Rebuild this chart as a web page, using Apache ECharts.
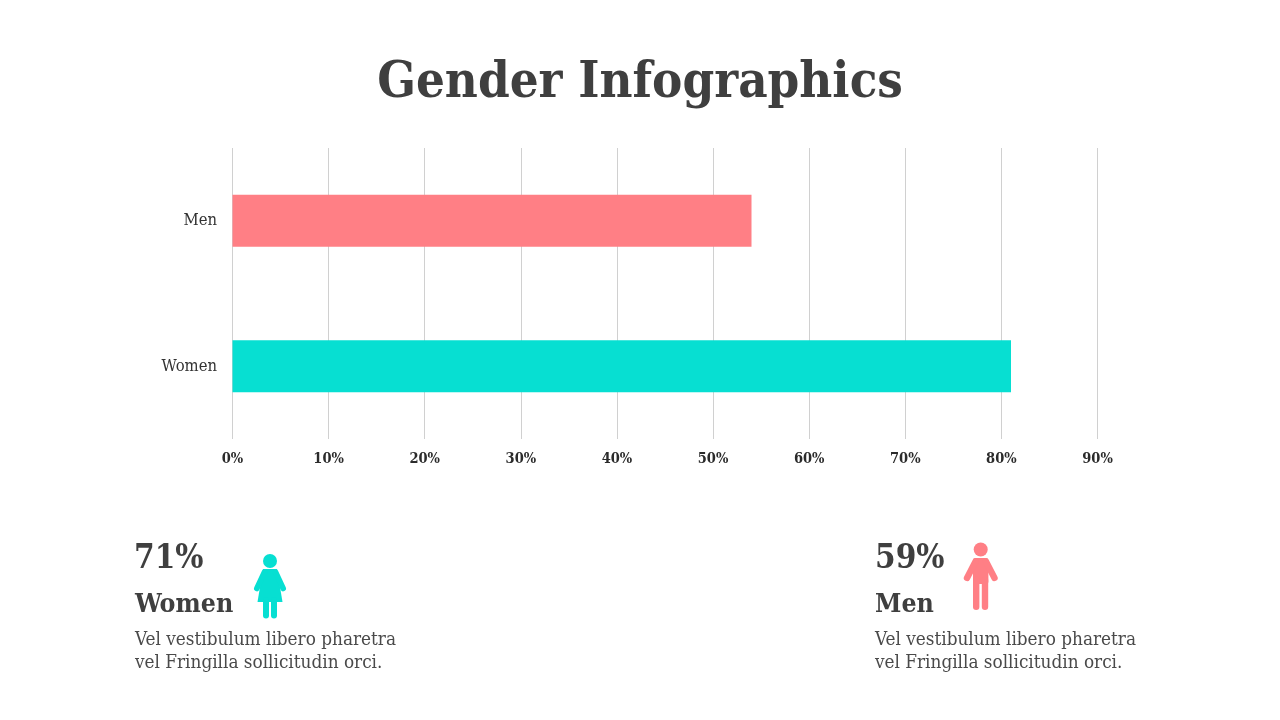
<!DOCTYPE html>
<html><head><meta charset="utf-8">
<style>html,body{margin:0;padding:0;background:#fff}#c{width:1280px;height:720px}</style>
<script src="https://cdn.jsdelivr.net/npm/echarts@6/dist/echarts.min.js"></script>
</head><body><div id="c"></div>
<script>
const categories = ['Women', 'Men'];
const shareValues = [81, 54];
const barColors = ['#07DFD2', '#FF7F85'];
const tickValues = [0, 90, 10];
const SERIF = '"DejaVu Serif Condensed","DejaVu Serif","Liberation Serif",serif';
const DARK = '#3F3F3F';
function txt(x, y, s, size, weight, color, align) {
  return {type:'text', x, y, style:{text:s, fontFamily:SERIF, fontSize:size, fontWeight:weight, fill:color, textAlign:align||'left', textVerticalAlign:'middle'}};
}
function limb(x1,y1,x2,y2,w,c){
  return {type:'line', shape:{x1,y1,x2,y2}, style:{stroke:c,lineWidth:w,lineCap:'round'}};
}
function womanIcon(c){
  return [
    {type:'circle', shape:{cx:270,cy:561,r:7}, style:{fill:c}},
    {type:'polygon', shape:{points:[[263,569],[277,569],[282.5,602],[257.5,602]]}, style:{fill:c}},
    limb(264.5,572,256.8,588.5,5.6,c), limb(275.5,572,283.2,588.5,5.6,c),
    limb(266,600,266,615.5,6,c), limb(274,600,274,615.5,6,c)
  ];
}
function manIcon(c){
  return [
    {type:'circle', shape:{cx:980.7,cy:549.5,r:7}, style:{fill:c}},
    {type:'rect', shape:{x:973,y:558,width:15.4,height:26,r:2}, style:{fill:c}},
    limb(975.5,561.5,967,578,6.4,c), limb(986,561.5,994.5,578,6.4,c),
    limb(976.2,580,976.2,606.8,6.4,c), limb(985,580,985,606.8,6.4,c)
  ];
}
const chart = echarts.init(document.getElementById('c'), null, {renderer:'canvas'});
chart.setOption({
  animation:false,
  backgroundColor:'#fff',
  graphic:[
    txt(640,84,'Gender Infographics',50.5,'bold',DARK,'center'),
    txt(134,559,'71%',33,'bold',DARK),
    txt(135,605,'Women',26.5,'bold',DARK),
    txt(135,640,'Vel vestibulum libero pharetra',18.8,'normal','#4A4A4A'),
    txt(135,663,'vel Fringilla sollicitudin orci.',18.8,'normal','#4A4A4A'),
    txt(875,559,'59%',33,'bold',DARK),
    txt(875,605,'Men',26.5,'bold',DARK),
    txt(875,640,'Vel vestibulum libero pharetra',18.8,'normal','#4A4A4A'),
    txt(875,663,'vel Fringilla sollicitudin orci.',18.8,'normal','#4A4A4A'),
    ...womanIcon(barColors[0]),
    ...manIcon(barColors[1])
  ],
  grid:{left:232.5, top:148, width:865, height:291, containLabel:false},
  xAxis:{type:'value', min:tickValues[0], max:tickValues[1], interval:tickValues[2],
    axisLine:{show:false}, axisTick:{show:false},
    splitLine:{show:true, lineStyle:{color:'#D0D0D0', width:1}},
    axisLabel:{formatter:'{value}%', margin:13, fontFamily:SERIF, fontSize:14.5, fontWeight:'bold', color:'#2B2B2B'}},
  yAxis:{type:'category', data:categories,
    axisLine:{show:false}, axisTick:{show:false},
    axisLabel:{margin:15.5, fontFamily:SERIF, fontSize:16.5, color:'#333333'}},
  series:[{type:'bar', barWidth:52, z:3,
    data:shareValues.map((v,i)=>({value:v, itemStyle:{color:barColors[i]}}))}]
});
</script></body></html>
